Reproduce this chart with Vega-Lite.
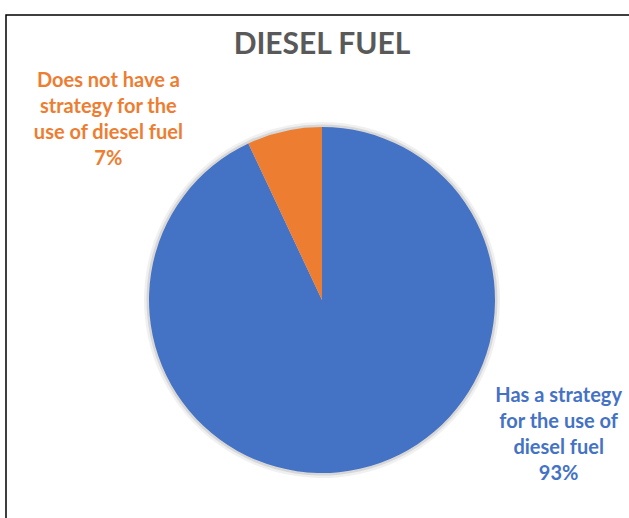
{
  "$schema": "https://vega.github.io/schema/vega-lite/v6.json",
  "autosize": "none",
  "width": 632,
  "height": 570,
  "padding": {"left": 6, "top": 15, "right": 0, "bottom": 0},
  "background": "white",
  "config": {"view": {"stroke": null}},
  "title": {"text": "DIESEL FUEL", "font": "Lato", "fontSize": 30, "fontWeight": "bold", "color": "#595959", "offset": -46, "anchor": "middle"},
  "data": {"values": [
    {"category": "Has a strategy for the use of diesel fuel", "value": 93, "label": "Has a strategy\nfor the use of\ndiesel fuel\n93%"},
    {"category": "Does not have a strategy for the use of diesel fuel", "value": 7, "label": "Does not have a\nstrategy for the\nuse of diesel fuel\n7%"}
  ]},
  "transform": [
    {"stack": "value", "groupby": [], "as": ["v0", "v1"], "sort": [{"field": "value", "order": "descending"}]},
    {"calculate": "(datum.v0 + datum.v1) / 2", "as": "vmid"}
  ],
  "layer": [
    {
      "data": {"values": [{"frame": 1}]},
      "mark": {"type": "rect", "fill": null, "stroke": "#000000", "strokeWidth": 1.5},
      "encoding": {}
    },
    {
      "mark": {"type": "arc", "radius": 178, "opacity": 0.06},
      "encoding": {
        "theta": {"field": "v0", "type": "quantitative", "scale": {"domain": [0, 100]}},
        "theta2": {"field": "v1"},
        "color": {"value": "#000000"}
      }
    },
    {
      "mark": {"type": "arc", "radius": 175.5, "opacity": 0.1},
      "encoding": {
        "theta": {"field": "v0", "type": "quantitative"},
        "theta2": {"field": "v1"},
        "color": {"value": "#000000"}
      }
    },
    {
      "mark": {"type": "arc", "radius": 173},
      "encoding": {
        "theta": {"field": "v0", "type": "quantitative"},
        "theta2": {"field": "v1"},
        "color": {"field": "category", "type": "nominal", "legend": null,
          "scale": {"domain": ["Has a strategy for the use of diesel fuel", "Does not have a strategy for the use of diesel fuel"], "range": ["#4472C4", "#ED7D31"]}}
      }
    },
    {
      "transform": [{"filter": "datum.value < 50"}],
      "mark": {"type": "text", "radius": 200, "dx": -170, "dy": -24, "align": "center", "baseline": "middle", "lineBreak": "\n", "lineHeight": 26, "font": "Lato", "fontSize": 20, "fontWeight": "bold"},
      "encoding": {
        "theta": {"field": "vmid", "type": "quantitative"},
        "text": {"field": "label"},
        "color": {"field": "category", "type": "nominal", "legend": null}
      }
    },
    {
      "transform": [{"filter": "datum.value >= 50"}],
      "mark": {"type": "text", "radius": 200, "dx": 193, "dy": -99, "align": "center", "baseline": "middle", "lineBreak": "\n", "lineHeight": 26, "font": "Lato", "fontSize": 20, "fontWeight": "bold"},
      "encoding": {
        "theta": {"field": "vmid", "type": "quantitative"},
        "text": {"field": "label"},
        "color": {"field": "category", "type": "nominal", "legend": null}
      }
    }
  ]
}
